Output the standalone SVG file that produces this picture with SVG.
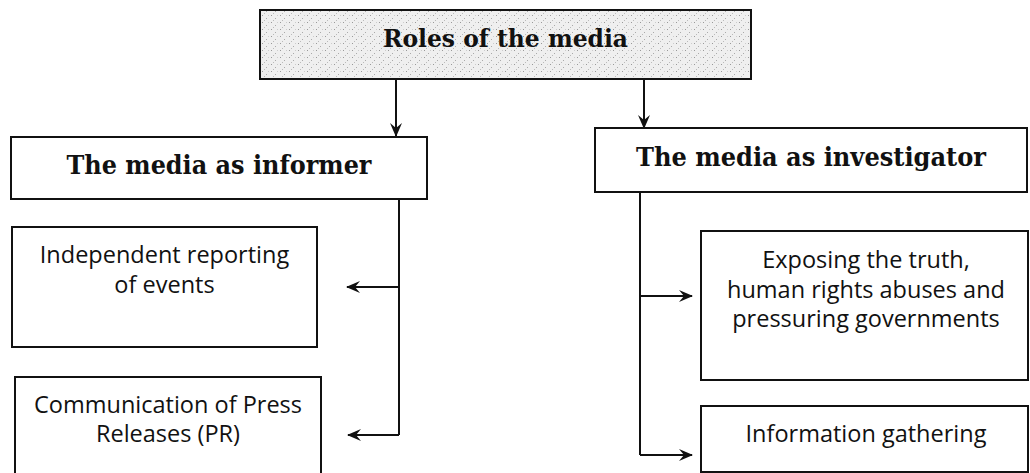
<svg xmlns="http://www.w3.org/2000/svg" width="1030" height="473" viewBox="0 0 1030 473">
<style>
.box{fill:#fff;stroke:#111;stroke-width:2}
.hdr{font-family:"DejaVu Serif Condensed","DejaVu Serif","Liberation Serif",serif;font-stretch:condensed;font-weight:bold;fill:#111;text-anchor:middle}
.body{font-family:"Open Sans","Noto Sans",sans-serif;font-size:23.5px;fill:#111;text-anchor:middle}
.con{fill:none;stroke:#111;stroke-width:2}
</style>
<defs>
<pattern id="speck" width="9" height="7" patternUnits="userSpaceOnUse">
<rect width="9" height="7" fill="#efefef"/>
<rect x="1" y="1" width="1" height="1" fill="#999"/>
<rect x="5" y="4" width="1" height="1" fill="#aaa"/>
<rect x="7" y="1" width="1" height="1" fill="#ccc"/>
<rect x="3" y="6" width="1" height="1" fill="#bbb"/>
</pattern>
<marker id="arr" viewBox="0 0 14 12" refX="13" refY="6" markerWidth="14" markerHeight="12" markerUnits="userSpaceOnUse" orient="auto">
<path d="M0,0 L14,6 L0,12 L5,6 Z" fill="#111"/>
</marker>
</defs>
<g id="connectors">
<path class="con" d="M396,79 V136" marker-end="url(#arr)"/>
<path class="con" d="M644,79 V128" marker-end="url(#arr)"/>
<path class="con" d="M399,199 V435"/>
<path class="con" d="M399,287 H347" marker-end="url(#arr)"/>
<path class="con" d="M399,435 H348" marker-end="url(#arr)"/>
<path class="con" d="M640,192 V455"/>
<path class="con" d="M640,296 H692" marker-end="url(#arr)"/>
<path class="con" d="M640,455 H692" marker-end="url(#arr)"/>
</g>
<g id="roles">
<rect x="260" y="10" width="491" height="69" fill="url(#speck)" stroke="#111" stroke-width="2"/>
<text class="hdr" x="505.5" y="47" font-size="25" textLength="245" lengthAdjust="spacingAndGlyphs">Roles of the media</text>
</g>
<g id="informer">
<rect class="box" x="11" y="137" width="416" height="62"/>
<text class="hdr" x="219" y="174" font-size="26" textLength="305" lengthAdjust="spacingAndGlyphs">The media as informer</text>
</g>
<g id="investigator">
<rect class="box" x="595" y="128" width="432" height="64"/>
<text class="hdr" x="811" y="166" font-size="26" textLength="350" lengthAdjust="spacingAndGlyphs">The media as investigator</text>
</g>
<g id="independent">
<rect class="box" x="12" y="227" width="305" height="120"/>
<text class="body" x="164.5" y="263">Independent reporting</text>
<text class="body" x="164.5" y="293">of events</text>
</g>
<g id="communication">
<rect class="box" x="15" y="377" width="306" height="100"/>
<text class="body" x="168" y="413">Communication of Press</text>
<text class="body" x="168" y="442">Releases (PR)</text>
</g>
<g id="exposing">
<rect class="box" x="701" y="231" width="327" height="149"/>
<text class="body" x="866" y="268">Exposing the truth,</text>
<text class="body" x="866" y="298">human rights abuses and</text>
<text class="body" x="866" y="327">pressuring governments</text>
</g>
<g id="gathering">
<rect class="box" x="701" y="406" width="327" height="66"/>
<text class="body" x="866" y="442">Information gathering</text>
</g>
</svg>
